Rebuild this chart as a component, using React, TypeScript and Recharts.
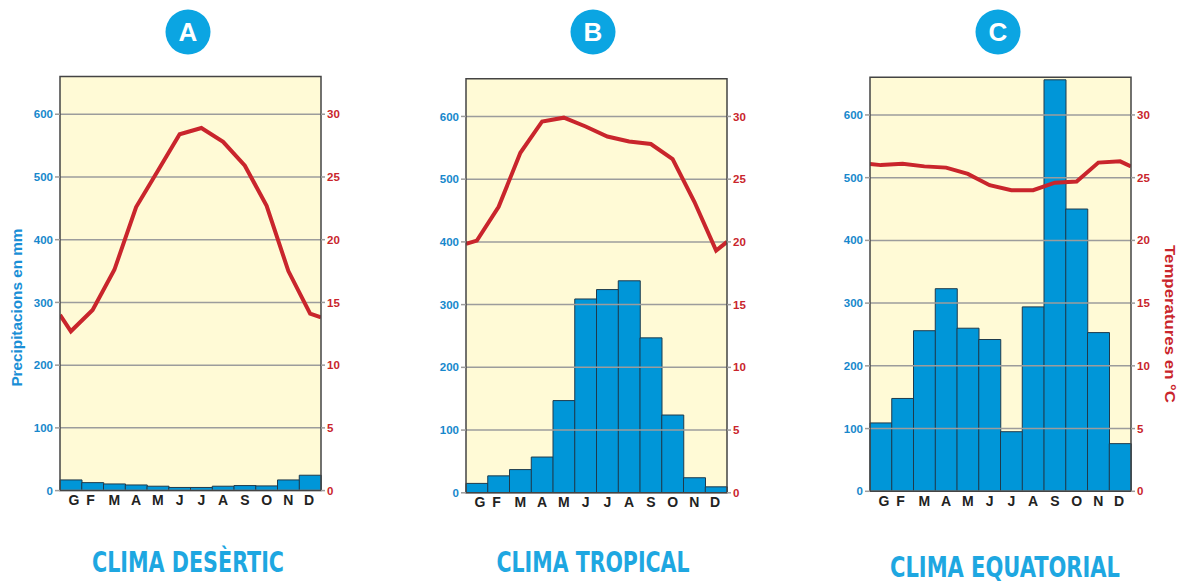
import { ComposedChart, Bar, Line, XAxis, YAxis, ReferenceLine, ReferenceArea } from 'recharts';

const MONTHS = ['G', 'F', 'M', 'A', 'M', 'J', 'J', 'A', 'S', 'O', 'N', 'D'];
const PRECIP_TICKS = [0, 100, 200, 300, 400, 500, 600];
const TEMP_TICKS = [0, 5, 10, 15, 20, 25, 30];

// precipitation (mm) and temperature (°C); edges = line value at left / right border
const desertRain = [17, 12.7, 10.6, 9, 7, 5, 5, 7, 8, 7.5, 17, 24.5];
const desertTemp = [12.7, 14.4, 17.6, 22.6, 25.5, 28.4, 28.9, 27.8, 25.9, 22.7, 17.5, 14.1];
const desertTempEdges = [14.0, 13.8];

const tropicalRain = [15, 27, 37, 57, 147, 309, 324, 338, 247, 124, 24, 9.5];
const tropicalTemp = [20.1, 22.8, 27.1, 29.6, 29.9, 29.2, 28.4, 28.0, 27.8, 26.6, 23.2, 19.3];
const tropicalTempEdges = [19.85, 20.0];

const equatorialRain = [109, 148, 256, 323, 260, 242, 95, 294, 656, 450, 253, 76];
const equatorialTemp = [26.0, 26.1, 25.9, 25.8, 25.3, 24.4, 24.0, 24.0, 24.6, 24.7, 26.2, 26.3];
const equatorialTempEdges = [26.1, 25.9];

const FONT = '"Liberation Sans", Arial, sans-serif';
const BLUE_TXT = '#1788cc';
const RED = '#c9252c';
const GRID = '#9c9c9c';

const TICK_DX = [3, -2, 0, 0, 0, 0, 0, 0, 0, 0, 0, -1];

function MonthTick(props: any) {
  const { x, y, payload, index } = props;
  return (
    <text
      x={x + (TICK_DX[index] || 0)}
      y={y}
      dy={14.5}
      textAnchor="middle"
      fill="#222"
      fontSize={14}
      fontWeight={700}
      fontFamily={FONT}
    >
      {payload.value}
    </text>
  );
}

interface ClimoProps {
  rain: number[];
  temp: number[];
  edges: number[];
  top: number;
}

function Climograph({ rain, temp, edges, top }: ClimoProps) {
  const data = MONTHS.map((m, i) => ({ m, p: rain[i] }));
  const lineData = [
    { x: 0, t: edges[0] },
    ...temp.map((t, i) => ({ x: i + 0.5, t })),
    { x: 12, t: edges[1] },
  ];

  return (
    <ComposedChart
      width={400}
      height={584}
      data={data}
      barCategoryGap={0}
      margin={{ top, right: 39, left: 20, bottom: 584 - top - 414 - 30 }}
    >
      <XAxis
        xAxisId="cat"
        dataKey="m"
        axisLine={false}
        tickLine={false}
        tickSize={0}
        tickMargin={0}
        height={30}
        interval={0}
        tick={<MonthTick />}
      />
      <XAxis xAxisId="num" type="number" dataKey="x" domain={[0, 12]} hide allowDataOverflow />
      <YAxis
        yAxisId="p"
        domain={[0, 660]}
        ticks={PRECIP_TICKS}
        interval={0}
        width={40}
        allowDataOverflow
        axisLine={false}
        tickSize={5}
        tickMargin={2}
        tickLine={{ stroke: GRID, strokeWidth: 1.5 }}
        tick={{ fill: BLUE_TXT, fontSize: 11.5, fontWeight: 700, fontFamily: FONT }}
      />
      <YAxis
        yAxisId="t"
        orientation="right"
        domain={[0, 33]}
        ticks={TEMP_TICKS}
        interval={0}
        width={40}
        allowDataOverflow
        axisLine={false}
        tickSize={4}
        tickMargin={2}
        tickLine={{ stroke: GRID, strokeWidth: 1.5 }}
        tick={{ fill: RED, fontSize: 11.5, fontWeight: 700, fontFamily: FONT }}
      />
      <ReferenceArea
        xAxisId="num"
        yAxisId="p"
        x1={0}
        x2={12}
        y1={0}
        y2={660}
        fill="#fffad6"
        fillOpacity={1}
        stroke="none"
        zIndex={-100}
      />
      <Bar
        xAxisId="cat"
        yAxisId="p"
        dataKey="p"
        fill="#0096d8"
        stroke="#1e3a4c"
        strokeWidth={1}
        isAnimationActive={false}
      />
      {PRECIP_TICKS.map((v) => (
        <ReferenceLine key={v} xAxisId="num" yAxisId="p" y={v} stroke={GRID} strokeWidth={1.5} zIndex={350} />
      ))}
      <Line
        xAxisId="num"
        yAxisId="t"
        data={lineData}
        dataKey="t"
        type="linear"
        stroke={RED}
        strokeWidth={4}
        dot={false}
        activeDot={false}
        isAnimationActive={false}
        zIndex={400}
      />
      <ReferenceArea
        xAxisId="num"
        yAxisId="p"
        x1={0}
        x2={12}
        y1={0}
        y2={660}
        fill="none"
        stroke="#444"
        strokeWidth={1.5}
        zIndex={450}
      />
    </ComposedChart>
  );
}

const PANELS = [
  { left: 0, top: 76.6, rain: desertRain, temp: desertTemp, edges: desertTempEdges, letter: 'A', title: 'CLIMA DESÈRTIC', cx: 188, tw: 192, ty: 572 },
  { left: 406, top: 78.8, rain: tropicalRain, temp: tropicalTemp, edges: tropicalTempEdges, letter: 'B', title: 'CLIMA TROPICAL', cx: 593, tw: 193, ty: 572 },
  { left: 810, top: 77.3, rain: equatorialRain, temp: equatorialTemp, edges: equatorialTempEdges, letter: 'C', title: 'CLIMA EQUATORIAL', cx: 1005, tw: 230, ty: 577 },
];

export default function App() {
  return (
    <div style={{ position: 'absolute', left: 0, top: 0, width: 1188, height: 584, background: '#fff', overflow: 'hidden' }}>
      {PANELS.map((p) => (
        <div key={p.letter} style={{ position: 'absolute', left: p.left, top: 0 }}>
          <Climograph rain={p.rain} temp={p.temp} edges={p.edges} top={p.top} />
        </div>
      ))}
      <svg width={1188} height={584} style={{ position: 'absolute', left: 0, top: 0, pointerEvents: 'none' }}>
        {PANELS.map((p, i) => (
          <g key={p.letter}>
            <circle cx={[188, 593, 998][i]} cy={32} r={22.5} fill="#0ba5e2" />
            <text
              x={[188, 593, 998][i]}
              y={41}
              textAnchor="middle"
              fill="#fff"
              fontSize={26}
              fontWeight={700}
              fontFamily={FONT}
            >
              {p.letter}
            </text>
            <text
              x={p.cx}
              y={p.ty}
              textAnchor="middle"
              fill="#1ea7e1"
              fontSize={29}
              fontWeight={700}
              fontFamily='"DejaVu Sans Condensed", "Liberation Sans Narrow", "DejaVu Sans", sans-serif'
              textLength={p.tw}
              lengthAdjust="spacingAndGlyphs"
            >
              {p.title}
            </text>
          </g>
        ))}
        <text
          transform="translate(16.5 307.6) rotate(-90)"
          textAnchor="middle"
          dominantBaseline="central"
          fill="#1a8fd6"
          fontSize={14}
          fontWeight={700}
          fontFamily={FONT}
          textLength={158}
          lengthAdjust="spacingAndGlyphs"
        >
          Precipitacions en mm
        </text>
        <text
          transform="translate(1170 324) rotate(90)"
          textAnchor="middle"
          dominantBaseline="central"
          fill={RED}
          fontSize={15.5}
          fontWeight={700}
          fontFamily={FONT}
          textLength={158}
          lengthAdjust="spacingAndGlyphs"
        >
          Temperatures en °C
        </text>
      </svg>
    </div>
  );
}
